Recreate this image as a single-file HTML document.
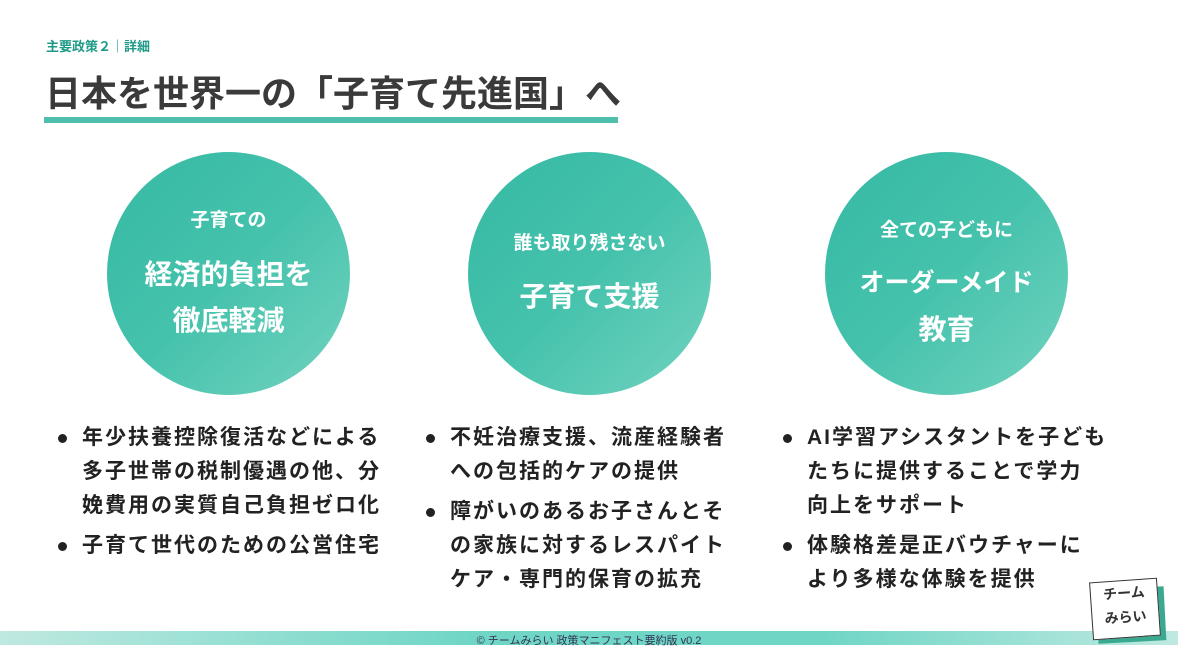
<!DOCTYPE html>
<html><head><meta charset="utf-8"><style>
body{margin:0;width:1178px;height:645px;position:relative;overflow:hidden;background:#fff;font-family:"Liberation Sans","Noto Sans CJK JP",sans-serif;}
.a{position:absolute;white-space:nowrap;}
.c{position:absolute;width:243px;height:243px;border-radius:50%;background:linear-gradient(135deg,#35b9a4 0%,#45c2ac 50%,#72d3bf 100%);color:#fff;font-weight:bold;text-align:center;}
.c div{position:absolute;left:0;right:0;}
.s{font-size:19px;}
.b{font-size:28px;}
.l{font-size:21px;font-weight:bold;color:#222;letter-spacing:2px;line-height:34px;}
.g{display:inline-block;margin-top:6px;}
.dot{position:absolute;width:9px;height:9px;border-radius:50%;background:#222;}
</style></head><body>
<div class="a" style="left:46px;top:36px;font-size:13px;font-weight:bold;color:#1f9a88;">主要政策２｜詳細</div>
<div class="a" style="left:45px;top:65px;font-size:36px;font-weight:bold;color:#3a3a3a;">日本を世界一の「子育て先進国」へ</div>
<div class="a" style="left:44px;top:117px;width:574px;height:6px;background:#4dbfac;"></div>

<div class="c" style="left:107px;top:152px;">
<div class="s" style="top:53px;">子育ての</div>
<div class="b" style="top:101px;">経済的負担を</div>
<div class="b" style="top:147px;">徹底軽減</div>
</div>
<div class="c" style="left:468px;top:152px;">
<div class="s" style="top:76px;">誰も取り残さない</div>
<div class="b" style="top:123px;">子育て支援</div>
</div>
<div class="c" style="left:825px;top:152px;">
<div class="s" style="top:63px;">全ての子どもに</div>
<div class="b" style="top:111px;font-size:25px;">オーダーメイド</div>
<div class="b" style="top:156px;">教育</div>
</div>

<div class="dot" style="left:58px;top:434px;"></div>
<div class="dot" style="left:58px;top:542px;"></div>
<div class="a l" style="left:82px;top:421px;">年少扶養控除復活などによる<br>多子世帯の税制優遇の他、分<br>娩費用の実質自己負担ゼロ化<br><span class="g">子育て世代のための公営住宅</span></div>

<div class="dot" style="left:426px;top:434px;"></div>
<div class="dot" style="left:426px;top:508px;"></div>
<div class="a l" style="left:450px;top:421px;">不妊治療支援、流産経験者<br>への包括的ケアの提供<br><span class="g">障がいのあるお子さんとそ</span><br>の家族に対するレスパイト<br>ケア・専門的保育の拡充</div>

<div class="dot" style="left:783px;top:434px;"></div>
<div class="dot" style="left:783px;top:542px;"></div>
<div class="a l" style="left:807px;top:421px;">AI学習アシスタントを子ども<br>たちに提供することで学力<br>向上をサポート<br><span class="g">体験格差是正バウチャーに</span><br>より多様な体験を提供</div>

<div class="a" style="left:0;top:631px;width:1178px;height:14px;background:linear-gradient(90deg,#bfe9e0,#6fd6c6 40%,#6fd6c6 70%,#bfe9e0);"></div>
<div class="a" style="left:0;top:632px;width:1178px;text-align:center;font-size:11px;color:#335;">© チームみらい 政策マニフェスト要約版 v0.2</div>

<div class="a" style="left:1097px;top:588px;width:68px;height:54px;background:#3aa98f;transform:rotate(-3deg);"></div>
<div class="a" style="left:1091px;top:580px;width:66px;height:56px;background:#fff;border:1.5px solid #333;transform:rotate(-4deg);text-align:center;font-size:14px;font-weight:bold;color:#333;line-height:24px;">チーム<br>みらい</div>
</body></html>
